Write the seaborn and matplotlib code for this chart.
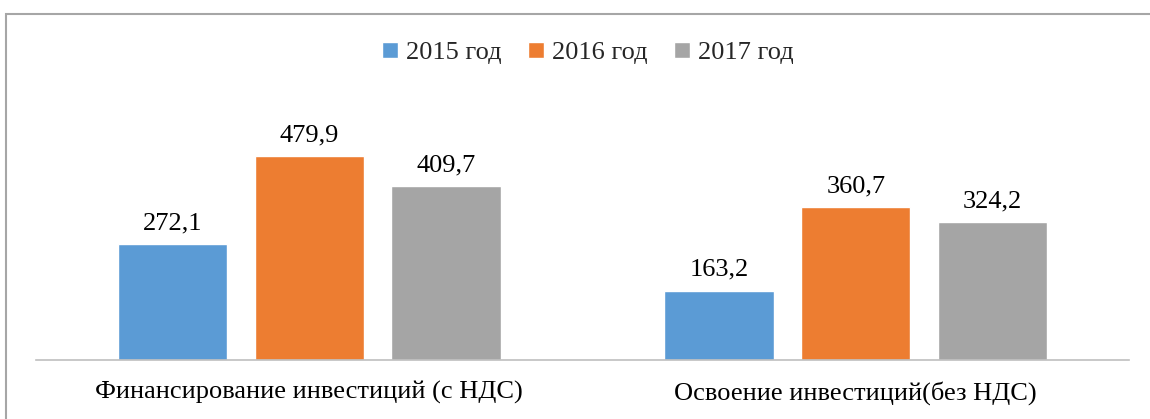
import pandas as pd
import seaborn as sns
import matplotlib.pyplot as plt
from matplotlib.patches import Rectangle

categories = ["Финансирование инвестиций (с НДС)", "Освоение инвестиций(без НДС)"]
years = ["2015 год", "2016 год", "2017 год"]
v2015 = [272.1, 163.2]
v2016 = [479.9, 360.7]
v2017 = [409.7, 324.2]
colors = ["#5B9BD5", "#ED7D31", "#A5A5A5"]

rows = []
for y, vals in zip(years, [v2015, v2016, v2017]):
    for c, v in zip(categories, vals):
        rows.append({"cat": c, "year": y, "value": v})
df = pd.DataFrame(rows)

sns.set_style("white")
plt.rcParams['font.family'] = ['Liberation Serif', 'DejaVu Serif']

fig = plt.figure(figsize=(11.5, 4.19), dpi=100)
ax = fig.add_axes([36 / 1150, 1 - 360 / 419, 1093 / 1150, 255 / 419])

sns.barplot(data=df, x="cat", y="value", hue="year", palette=colors,
            width=0.75, gap=0.2, ax=ax, saturation=1)

for cont in ax.containers:
    ax.bar_label(cont, labels=[f"{v:.1f}".replace(".", ",") for v in cont.datavalues],
                 padding=7, fontsize=19, color="#000000")

ax.set_ylim(0, 600)
ax.set_xlim(-0.5, 1.5)
ax.set_xlabel("")
ax.set_ylabel("")
ax.set_yticks([])
ax.tick_params(axis="x", length=0, pad=15, labelsize=19, labelcolor="#000000")
for s in ["top", "right", "left"]:
    ax.spines[s].set_visible(False)
ax.spines["bottom"].set_color("#BFBFBF")
ax.spines["bottom"].set_linewidth(1.2)

leg = ax.legend(loc="center", bbox_to_anchor=(588 / 1150, 1 - 53 / 419),
                bbox_transform=fig.transFigure, ncol=3, frameon=False,
                fontsize=19, handlelength=0.6, handleheight=0.6,
                handletextpad=0.3, columnspacing=1.0)

# outer border (cropped at right and bottom)
fig.patches.append(Rectangle((6 / 1150, -0.1), 1.2, 1 - 14 / 419 + 0.1,
                             transform=fig.transFigure, fill=False,
                             edgecolor="#A6A6A6", linewidth=1.5))

fig.savefig("out.png", dpi=100)
